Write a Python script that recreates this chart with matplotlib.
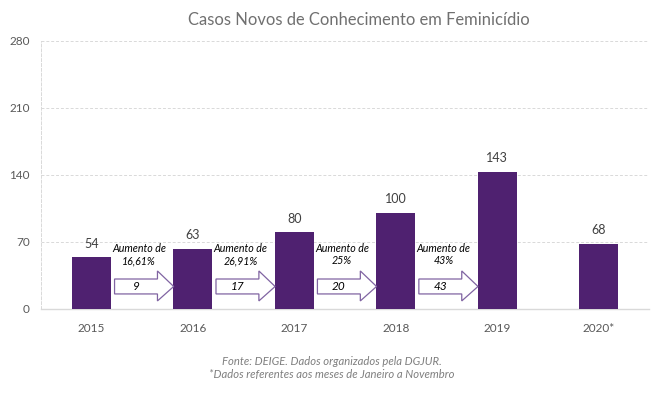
import numpy as np
import matplotlib
matplotlib.use('Agg')
import matplotlib.pyplot as plt
from matplotlib.patches import Polygon

plt.rcParams['font.family'] = ['Lato', 'DejaVu Sans']

years = ['2015', '2016', '2017', '2018', '2019', '2020*']
cases = [54, 63, 80, 100, 143, 68]
# growth between consecutive years (2015->2019)
increases = [9, 17, 20, 43]
pct_labels = ['16,61%', '26,91%', '25%', '43%']

bar_color = '#4F2170'
text_color = '#595959'
grid_color = '#D9D9D9'
arrow_edge = '#8064A2'

fig = plt.figure(figsize=(6.53, 3.95), dpi=100)
ax = fig.add_axes([0.0625, 0.218, 0.932, 0.679])

x = np.arange(len(years))
ax.bar(x, cases, width=0.385, color=bar_color, zorder=3)

for xi, v in zip(x, cases):
    ax.text(xi, v + 8, str(v), ha='center', va='bottom', fontsize=9, color='#404040')

# arrows with the yearly increase
for i, (inc, pct) in enumerate(zip(increases, pct_labels)):
    x0 = i + 0.227
    xb = i + 0.65
    xt = i + 0.81
    yb0, yb1 = 15.6, 31.2
    yh0, yh1 = 8.3, 39.6
    ym = (yb0 + yb1) / 2
    pts = [(x0, yb0), (xb, yb0), (xb, yh0), (xt, ym), (xb, yh1), (xb, yb1), (x0, yb1)]
    ax.add_patch(Polygon(pts, closed=True, facecolor='white', edgecolor=arrow_edge,
                         linewidth=0.9, zorder=4))
    ax.text((x0 + xb) / 2, ym, str(inc), ha='center', va='center', fontsize=8.5,
            style='italic', color='black', zorder=5)
    ax.text(i + 0.47, 63, 'Aumento de', ha='center', va='center', fontsize=7.7,
            style='italic', color='black', zorder=5)
    ax.text(i + 0.47, 50.5, pct, ha='center', va='center', fontsize=7.7,
            style='italic', color='black', zorder=5)

ax.set_xlim(-0.5, len(years) - 0.5)
ax.set_ylim(0, 280)
ax.set_yticks([0, 70, 140, 210, 280])
ax.set_xticks(x)
ax.set_xticklabels(years)
ax.tick_params(axis='both', length=0, labelsize=8.5, colors=text_color)
ax.tick_params(axis='x', pad=10)
ax.tick_params(axis='y', pad=8)

ax.grid(axis='y', color=grid_color, linestyle=(0, (3, 2)), linewidth=0.7, zorder=0)
for s in ['top', 'right']:
    ax.spines[s].set_visible(False)
ax.spines['left'].set_color(grid_color)
ax.spines['left'].set_linestyle((0, (3, 2)))
ax.spines['left'].set_linewidth(0.7)
ax.spines['bottom'].set_color(grid_color)
ax.spines['bottom'].set_linewidth(1.0)

fig.text(0.55, 0.949, 'Casos Novos de Conhecimento em Feminicídio', ha='center',
         va='center', fontsize=11.9, color='#707070')
fig.text(0.508, 0.086, 'Fonte: DEIGE. Dados organizados pela DGJUR.', ha='center',
         va='center', fontsize=8.1, style='italic', color='#7F7F7F')
fig.text(0.508, 0.051, '*Dados referentes aos meses de Janeiro a Novembro', ha='center',
         va='center', fontsize=8.1, style='italic', color='#7F7F7F')

fig.savefig('out.png', dpi=100)
